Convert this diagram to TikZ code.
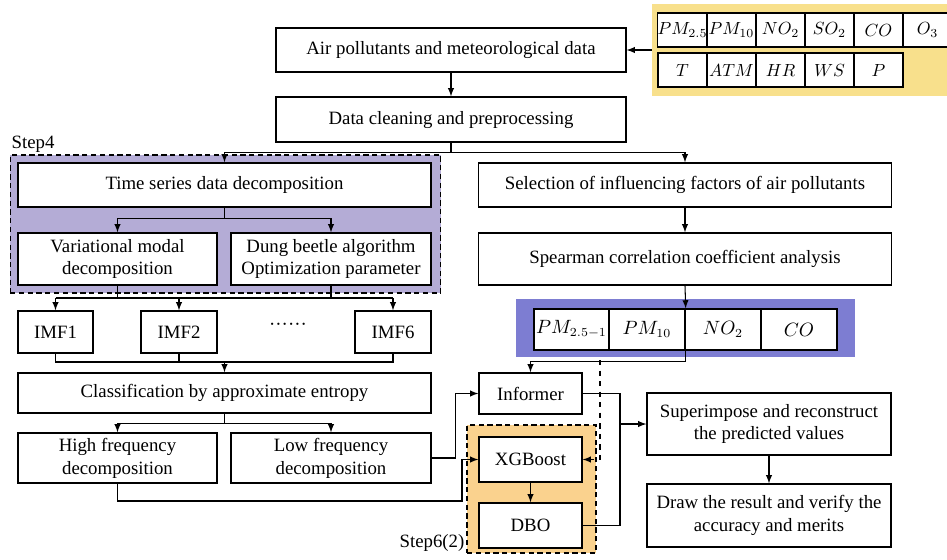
\documentclass[tikz,border=0pt]{standalone}
\usepackage{fontspec}
\setmainfont{Liberation Serif}
\usepackage{amsmath}

\definecolor{yelbg}{HTML}{F8E08C}
\definecolor{purbg}{HTML}{B4ACD6}
\definecolor{bluebg}{HTML}{7D7DD2}
\definecolor{orabg}{HTML}{FAD28E}

\tikzset{
  box/.style={draw, line width=0.8pt, fill=white, align=center, inner sep=0pt},
  cell/.style={draw, line width=0.8pt, fill=white, inner sep=0pt, minimum width=0.98cm, minimum height=0.68cm, font=\fontsize{10}{12}\selectfont},
  bigcell/.style={draw, line width=0.8pt, fill=white, inner sep=0pt, minimum width=1.52cm, minimum height=0.82cm},
  stepbox/.style={draw, dash pattern=on 3pt off 2pt, line width=0.6pt, inner sep=0pt},
  link/.style={line width=0.6pt}
}

\begin{document}
\begin{tikzpicture}[x=0.02cm, y=-0.02cm, >=latex, font=\fontsize{10.7}{13}\selectfont]
\useasboundingbox (0,0) rectangle (947,559);

% input data: pollutants and weather variables
\node[fill=yelbg, inner sep=0pt, minimum width=6.16cm, minimum height=1.84cm] (dataset) at (806,50) {};
\node[cell] (c11) at (682.5,30) {$PM_{2.5}$};
\node[cell] (c12) at (731.5,30) {$PM_{10}$};
\node[cell] (c13) at (780.5,30) {$NO_2$};
\node[cell] (c14) at (829.5,30) {$SO_2$};
\node[cell] (c15) at (878.5,30) {$CO$};
\node[cell] (c16) at (927.5,30) {$O_3$};
\node[cell] (c21) at (682.5,70) {$T$};
\node[cell] (c22) at (731.5,70) {$ATM$};
\node[cell] (c23) at (780.5,70) {$HR$};
\node[cell] (c24) at (829.5,70) {$WS$};
\node[cell] (c25) at (878.5,70) {$P$};

\node[box, minimum width=7cm, minimum height=0.88cm] (air) at (451,50) {Air pollutants and meteorological data};
\node[box, minimum width=7cm, minimum height=0.9cm] (clean) at (451,119.5) {Data cleaning and preprocessing};

% step 4: decomposition branch
\node[stepbox, fill=purbg, minimum width=8.62cm, minimum height=2.76cm] (step4bg) at (225.5,224) {};
\node[anchor=south west, inner sep=1pt] (step4lbl) at (step4bg.north west) {Step4};
\node[box, minimum width=8.26cm, minimum height=0.88cm] (series) at (224.5,185) {Time series data decomposition};
\node[box, minimum width=3.98cm, minimum height=1.04cm] (vmd) at (117.5,259) {Variational modal\\decomposition};
\node[box, minimum width=4cm, minimum height=1.04cm] (dba) at (331,259) {Dung beetle algorithm\\Optimization parameter};

\node[box, minimum width=1.5cm, minimum height=0.84cm] (imf1) at (55.5,332) {IMF1};
\node[box, minimum width=1.52cm, minimum height=0.84cm] (imf2) at (179,332) {IMF2};
\node[inner sep=0pt] (dots) at (288,327) {······};
\node[box, minimum width=1.52cm, minimum height=0.84cm] (imf6) at (393,332) {IMF6};

\node[box, minimum width=8.26cm, minimum height=0.8cm] (classif) at (224.5,393) {Classification by approximate entropy};
\node[box, minimum width=3.98cm, minimum height=1cm] (high) at (117.5,458) {High frequency\\decomposition};
\node[box, minimum width=4cm, minimum height=1cm] (low) at (331,458) {Low frequency\\decomposition};

% factor selection branch
\node[box, minimum width=8.26cm, minimum height=0.88cm] (select) at (685,185) {Selection of influencing factors of air pollutants};
\node[box, minimum width=8.26cm, minimum height=1.04cm] (spear) at (685,259) {Spearman correlation coefficient analysis};
\node[fill=bluebg, inner sep=0pt, minimum width=6.78cm, minimum height=1.16cm] (bluebg) at (685.5,328) {};
\node[bigcell, minimum width=1.5cm] (pm25) at (571.5,329.5) {$PM_{2.5-1}$};
\node[bigcell] (pm10) at (647,329.5) {$PM_{10}$};
\node[bigcell] (no2) at (723,329.5) {$NO_2$};
\node[bigcell] (co) at (799,329.5) {$CO$};

% models, step 6(2)
\node[stepbox, fill=orabg, minimum width=2.58cm, minimum height=2.56cm] (step6bg) at (531.5,489) {};
\node[anchor=south east, inner sep=1pt] (step6lbl) at (step6bg.south west) {Step6(2)};
\node[box, minimum width=2.06cm, minimum height=0.82cm] (informer) at (530.5,393.5) {Informer};
\node[box, minimum width=2.06cm, minimum height=0.9cm] (xgb) at (530.5,459.5) {XGBoost};
\node[box, minimum width=2.06cm, minimum height=0.9cm] (dbo) at (530.5,525.5) {DBO};

\node[box, minimum width=4.88cm, minimum height=1.24cm] (superimp) at (769,424) {Superimpose and reconstruct\\the predicted values};
\node[box, minimum width=4.88cm, minimum height=1.26cm] (result) at (769,515.5) {Draw the result and verify the\\accuracy and merits};

% connectors
\draw[link,->] (dataset.west) -- (air.east);
\draw[link,->] (air.south) -- (clean.north);
\draw[link] (clean.south) -- ++(0,10) coordinate (fork1);
\draw[link,->] (fork1) -| (series.north);
\draw[link,->] (fork1) -| (select.north);

\draw[link] (series.south) -- ++(0,11) coordinate (fork2);
\draw[link,->] (fork2) -| (vmd.north);
\draw[link,->] (fork2) -| (dba.north);

\coordinate (b1) at (55.5,298);
\coordinate (b6) at (393,298);
\draw[link] (b1) -- (b6);
\draw[link] (vmd.south) -- (vmd.south |- b1);
\draw[link] (dba.south) -- (dba.south |- b1);
\draw[link,->] (b1) -- (imf1.north);
\draw[link,->] (imf2.north |- b1) -- (imf2.north);
\draw[link,->] (b6) -- (imf6.north);

\coordinate (m1) at (55.5,362);
\coordinate (m6) at (393,362);
\draw[link] (imf1.south) -- (m1) -- (m6) -- (imf6.south);
\draw[link] (imf2.south) -- (imf2.south |- m1);
\draw[link,->] (classif.north |- m1) -- (classif.north);

\draw[link] (classif.south) -- ++(0,10) coordinate (fork3);
\draw[link,->] (fork3) -| (high.north);
\draw[link,->] (fork3) -| (low.north);

\draw[link,->] (low.east) -- ++(24,0) |- (informer.west);
\coordinate (hf) at (462,501);
\draw[link,->] (high.south) |- (hf) |- (xgb.west);

\draw[link,->] (select.south) -- (spear.north);
\draw[link,->] (spear.south) -- (pm10.north east);
\draw[link,->] (pm10.south east) -- ++(0,11) -| (informer.north);
\coordinate (dtop) at (600,360);
\draw[link,dashed,->] (dtop) |- (xgb.east);

\draw[link,->] (xgb.south) -- (dbo.north);
\coordinate (join) at (620,424);
\draw[link] (informer.east) -| (join);
\draw[link] (dbo.east) -| (join);
\draw[link,->] (join) -- (superimp.west);
\draw[link,->] (superimp.south) -- (result.north);

\end{tikzpicture}
\end{document}
